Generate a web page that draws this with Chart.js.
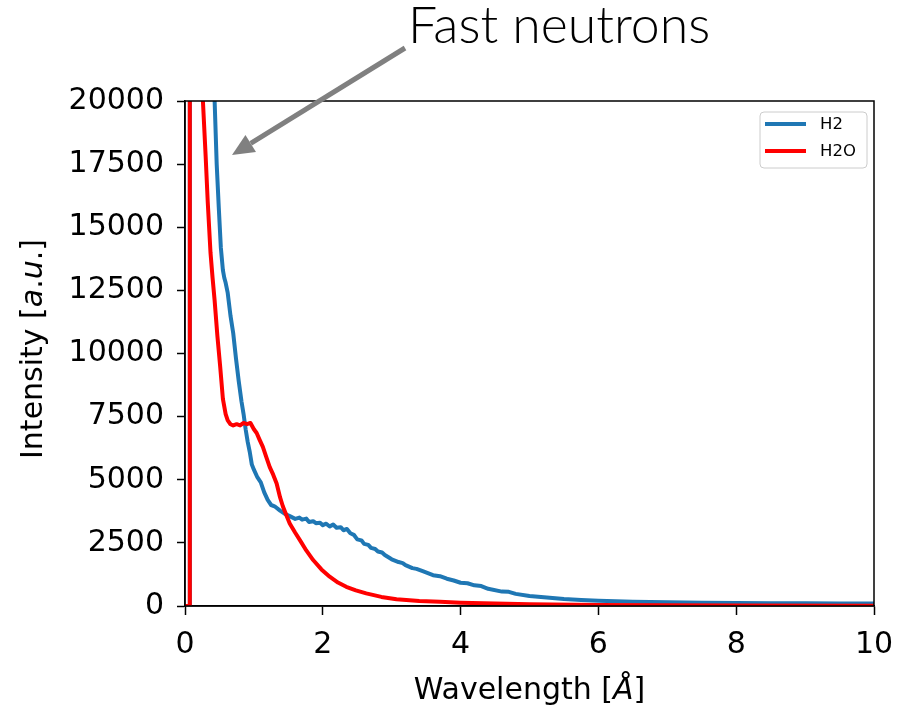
<!DOCTYPE html>
<html>
<head>
<meta charset="utf-8">
<script src="https://cdn.jsdelivr.net/npm/chart.js@4.4.1/dist/chart.umd.min.js"></script>
<style>
    html, body { margin: 0; padding: 0; background: #fff; }
    #chart { display: block; }
</style>
</head>
<body>
<canvas id="chart" width="899" height="713"></canvas>
<script>
// Spectra (wavelength in Å, intensity in a.u.)
const h2Wavelength = [0, 0.06, 0.07, 0.30, 0.40, 0.43, 0.46, 0.49, 0.52, 0.55, 0.57, 0.59, 0.62, 0.66, 0.70, 0.74, 0.78,
    0.82, 0.85, 0.88, 0.91, 0.94, 0.97, 1.00, 1.05, 1.10, 1.15, 1.20, 1.25, 1.30, 1.38, 1.45, 1.52, 1.60, 1.66, 1.70,
    1.76, 1.80, 1.86, 1.90, 1.96, 2.00, 2.05, 2.10, 2.15, 2.20, 2.26, 2.30, 2.35, 2.40, 2.45, 2.50, 2.56, 2.60,
    2.66, 2.70, 2.76, 2.80, 2.86, 2.90, 3.00, 3.10, 3.16, 3.20, 3.30, 3.36, 3.45, 3.60, 3.70,
    3.80, 3.90, 4.00, 4.10, 4.20, 4.30, 4.40, 4.60, 4.70, 4.80, 5.00, 5.25, 5.50, 5.75, 6.00, 6.50, 7.00, 7.50, 8.00, 8.50, 9.00, 9.50, 10.0];
const h2Intensity = [0, 0, 40000, 30000, 22000, 20000, 17500, 15800, 14200, 13300, 13000, 12800, 12400, 11500, 10800, 9800, 8900,
    8100, 7600, 7000, 6500, 6100, 5600, 5400, 5100, 4900, 4500, 4200, 4000, 3950, 3780, 3650, 3560, 3450, 3500, 3420,
    3460, 3330, 3360, 3280, 3300, 3200, 3260, 3150, 3230, 3100, 3120, 3000, 3050, 2880, 2820, 2640, 2600, 2460,
    2420, 2300, 2260, 2160, 2120, 2020, 1850, 1740, 1700, 1620, 1500, 1470, 1380, 1220, 1180,
    1080, 1010, 920, 900, 820, 790, 680, 570, 560, 480, 400, 340, 280, 240, 210, 170, 145, 130, 118, 110, 105, 100, 95];

const h2oWavelength = [0, 0.06, 0.07, 0.20, 0.26, 0.30, 0.33, 0.37, 0.40, 0.43, 0.47, 0.51, 0.55, 0.59, 0.62, 0.66,
    0.70, 0.75, 0.80, 0.85, 0.90, 0.95, 1.00, 1.04, 1.08, 1.13, 1.18, 1.23, 1.28, 1.33, 1.38, 1.42, 1.47, 1.52,
    1.60, 1.67, 1.76, 1.86, 1.98, 2.10, 2.22, 2.34, 2.48, 2.63, 2.85, 3.07, 3.40, 3.70, 4.00, 4.50, 5.00, 6.00,
    7.00, 8.00, 10.0];
const h2oIntensity = [0, 0, 40000, 30000, 20000, 17800, 16000, 14000, 13000, 12100, 10700, 9500, 8200, 7600, 7350, 7200,
    7150, 7200, 7150, 7250, 7200, 7250, 7000, 6850, 6600, 6300, 5900, 5500, 5200, 4850, 4300, 3950, 3600, 3270,
    2900, 2600, 2200, 1820, 1450, 1160, 930, 760, 620, 500, 360, 265, 200, 165, 130, 100, 70, 40,
    25, 15, 10];

const xTicks = [0, 2, 4, 6, 8, 10];
const yTicks = [0, 2500, 5000, 7500, 10000, 12500, 15000, 17500, 20000];

const toPoints = (xs, ys) => xs.map((x, i) => ({ x: x, y: ys[i] }));

const axisFont = { family: 'DejaVu Sans', size: 30 };

// Axis titles (with italic parts), frame, legend and the annotation arrow
const decorations = {
    id: 'decorations',
    afterDraw(chart) {
        const ctx = chart.ctx;
        const area = chart.chartArea;
        ctx.save();

        // frame on all four sides
        ctx.strokeStyle = '#000';
        ctx.lineWidth = 1.5;
        ctx.strokeRect(area.left, area.top, area.right - area.left, area.bottom - area.top);

        // x title: "Wavelength [Å]" with italic Å
        ctx.fillStyle = '#000';
        ctx.textBaseline = 'middle';
        const xParts = [['Wavelength [', ''], ['Å', 'italic '], [']', '']];
        drawParts(ctx, xParts, (area.left + area.right) / 2, 691);

        // y title: "Intensity [a.u.]" with italic a, u
        ctx.save();
        ctx.translate(34, 349);
        ctx.rotate(-Math.PI / 2);
        const yParts = [['Intensity [', ''], ['a', 'italic '], ['.', ''], ['u', 'italic '], ['.]', '']];
        drawParts(ctx, yParts, 0, 0);
        ctx.restore();

        // legend
        const lx = 760, ly = 112, lw = 107, lh = 56;
        ctx.beginPath();
        ctx.roundRect(lx, ly, lw, lh, 4);
        ctx.fillStyle = 'rgba(255,255,255,0.8)';
        ctx.fill();
        ctx.strokeStyle = '#cccccc';
        ctx.lineWidth = 1;
        ctx.stroke();
        chart.data.datasets.forEach((ds, i) => {
            const y = 124 + i * 27;
            ctx.beginPath();
            ctx.moveTo(765, y);
            ctx.lineTo(806, y);
            ctx.strokeStyle = ds.borderColor;
            ctx.lineWidth = 4;
            ctx.stroke();
            ctx.fillStyle = '#000';
            ctx.font = '16.5px "DejaVu Sans"';
            ctx.textAlign = 'left';
            ctx.textBaseline = 'middle';
            ctx.fillText(ds.label, 820, y + 1);
        });

        // annotation text
        ctx.fillStyle = '#000';
        ctx.textAlign = 'left';
        ctx.textBaseline = 'alphabetic';
        ctx.font = '300 40px Lato';
        const w = ctx.measureText('Fast neutrons').width;
        ctx.font = '300 ' + (40 * 302 / w).toFixed(1) + 'px Lato';
        ctx.fillText('Fast neutrons', 408, 43);

        // annotation arrow
        const x0 = 405, y0 = 48, x1 = 232, y1 = 155;
        const ang = Math.atan2(y1 - y0, x1 - x0);
        const head = 22, half = 10;
        const bx = x1 - head * Math.cos(ang), by = y1 - head * Math.sin(ang);
        ctx.strokeStyle = '#808080';
        ctx.fillStyle = '#808080';
        ctx.lineWidth = 5;
        ctx.beginPath();
        ctx.moveTo(x0, y0);
        ctx.lineTo(bx, by);
        ctx.stroke();
        ctx.beginPath();
        ctx.moveTo(x1, y1);
        ctx.lineTo(bx + half * Math.sin(ang), by - half * Math.cos(ang));
        ctx.lineTo(bx - half * Math.sin(ang), by + half * Math.cos(ang));
        ctx.closePath();
        ctx.fill();

        ctx.restore();
    }
};

function drawParts(ctx, parts, cx, cy) {
    let total = 0;
    parts.forEach(p => {
        ctx.font = p[1] + axisFont.size + 'px "DejaVu Sans"';
        total += ctx.measureText(p[0]).width;
    });
    let x = cx - total / 2;
    ctx.textAlign = 'left';
    parts.forEach(p => {
        ctx.font = p[1] + axisFont.size + 'px "DejaVu Sans"';
        ctx.fillText(p[0], x, cy);
        x += ctx.measureText(p[0]).width;
    });
}

new Chart(document.getElementById('chart'), {
    type: 'line',
    data: {
        datasets: [{
            label: 'H2',
            data: toPoints(h2Wavelength, h2Intensity),
            borderColor: '#1f77b4',
            borderWidth: 4,
            pointRadius: 0,
            tension: 0,
            clip: 0,
            borderJoinStyle: 'round',
            order: 2
        }, {
            label: 'H2O',
            data: toPoints(h2oWavelength, h2oIntensity),
            borderColor: '#ff0000',
            borderWidth: 4,
            pointRadius: 0,
            tension: 0,
            clip: 0,
            borderJoinStyle: 'round',
            order: 1
        }]
    },
    options: {
        responsive: false,
        animation: false,
        layout: { padding: { left: 0, top: 101, right: 25, bottom: 0 } },
        plugins: {
            legend: { display: false },
            tooltip: { enabled: false }
        },
        scales: {
            x: {
                type: 'linear',
                min: 0,
                max: 10,
                afterBuildTicks: s => { s.ticks = xTicks.map(v => ({ value: v })); },
                afterFit: s => { s.height = 107; s.paddingLeft = 0; s.paddingRight = 0; },
                grid: { drawOnChartArea: false, drawTicks: true, tickLength: 9, tickColor: '#000', tickWidth: 1.5 },
                border: { display: true, color: '#000', width: 1.5 },
                ticks: { color: '#000', font: axisFont, padding: 12, maxRotation: 0, callback: v => v }
            },
            y: {
                type: 'linear',
                min: 0,
                max: 20000,
                afterBuildTicks: s => { s.ticks = yTicks.map(v => ({ value: v })); },
                afterFit: s => { s.width = 185; s.paddingTop = 0; s.paddingBottom = 0; },
                grid: { drawOnChartArea: false, drawTicks: true, tickLength: 8, tickColor: '#000', tickWidth: 1.5 },
                border: { display: true, color: '#000', width: 1.5 },
                ticks: { color: '#000', font: axisFont, padding: 13, callback: v => v }
            }
        }
    },
    plugins: [decorations]
});
</script>
</body>
</html>
